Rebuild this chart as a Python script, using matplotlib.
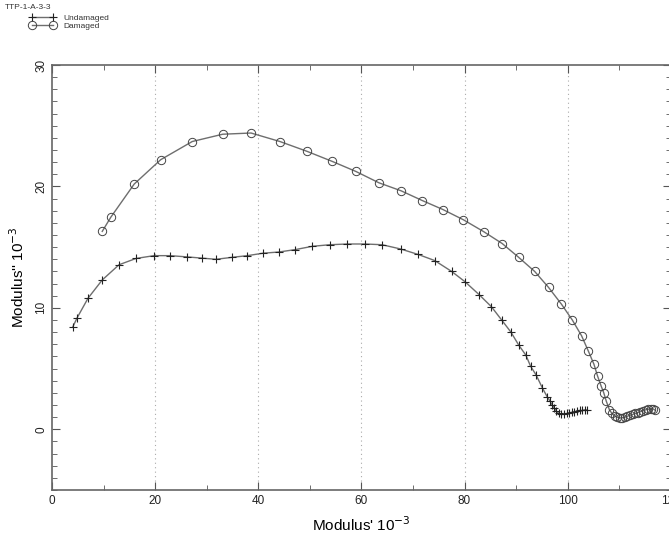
import matplotlib
matplotlib.use("Agg")
import matplotlib.pyplot as plt
from matplotlib.ticker import MultipleLocator

plt.rcParams['font.family'] = ['Liberation Sans', 'DejaVu Sans']

# Undamaged sample (Modulus' vs Modulus'', both x 10^-3)
undamaged_x = [4.0, 4.9, 7.0, 9.75, 13.0, 16.3, 19.8, 22.9, 26.1, 29.0, 31.8, 34.9, 37.9,
               40.9, 44.0, 47.2, 50.5, 53.9, 57.3, 60.7, 64.0, 67.6, 71.0, 74.2,
               77.5, 80.1, 82.8, 85.2, 87.2, 89.0, 90.5, 91.9, 92.8, 93.9, 95.1, 96.0,
               96.6, 97.0, 97.4, 97.8, 98.3, 98.8, 99.3, 99.8, 100.3, 100.8, 101.3,
               101.8, 102.3, 102.8, 103.3, 103.8]
undamaged_y = [8.4, 9.2, 10.8, 12.3, 13.55, 14.07, 14.3, 14.3, 14.2, 14.1, 14.0, 14.16, 14.3,
               14.5, 14.6, 14.8, 15.07, 15.2, 15.26, 15.26, 15.2, 14.85, 14.4, 13.9,
               13.0, 12.15, 11.1, 10.1, 9.0, 8.0, 6.94, 6.1, 5.2, 4.46, 3.4, 2.7,
               2.3, 2.0, 1.75, 1.5, 1.3, 1.22, 1.25, 1.3, 1.35, 1.4, 1.45,
               1.5, 1.55, 1.55, 1.6, 1.6]

damaged_x = [9.75, 11.4, 15.95, 21.07, 27.2, 33.1, 38.6, 44.2, 49.4, 54.3, 58.9, 63.4,
             67.7, 71.8, 75.8, 79.8, 83.7, 87.3, 90.5, 93.6, 96.3, 98.8, 100.9, 102.7,
             104.0, 105.1, 105.8, 106.5, 107.0, 107.5, 108.1, 108.6, 109.1, 109.6, 110.1,
             110.6, 111.1, 111.6, 112.1, 112.6, 113.1, 113.6, 114.1, 114.6, 115.1, 115.6,
             116.1, 116.6, 117.0]
damaged_y = [16.3, 17.46, 20.2, 22.2, 23.7, 24.3, 24.4, 23.7, 22.9, 22.07, 21.24, 20.3,
             19.64, 18.84, 18.1, 17.25, 16.28, 15.3, 14.16, 13.0, 11.68, 10.3, 9.0, 7.7,
             6.45, 5.35, 4.38, 3.55, 3.0, 2.3, 1.6, 1.3, 1.1, 1.0, 0.93,
             0.95, 1.0, 1.08, 1.15, 1.22, 1.3, 1.38, 1.45, 1.52, 1.6, 1.65,
             1.7, 1.68, 1.55]

fig = plt.figure(figsize=(6.69, 5.4), dpi=100)
ax = fig.add_axes([0.0777, 0.0926, 0.925, 0.787])

line_col = '#6e6e6e'
ax.plot(undamaged_x, undamaged_y, color=line_col, lw=1.0, marker='+', ms=5.5,
        mec='#222222', mew=0.8, label='Undamaged')
ax.plot(damaged_x, damaged_y, color=line_col, lw=1.0, marker='o', ms=6,
        mfc='none', mec='#444444', mew=0.7, label='Damaged')

ax.set_xlim(0, 120)
ax.set_ylim(-5, 30)
ax.xaxis.set_major_locator(MultipleLocator(20))
ax.xaxis.set_minor_locator(MultipleLocator(10))
ax.yaxis.set_major_locator(MultipleLocator(10))
ax.yaxis.set_minor_locator(MultipleLocator(1))
ax.tick_params(which='both', direction='in', top=True, right=True, colors='#555555',
               labelcolor='#222222', labelsize=8.5)
ax.tick_params(which='major', length=6)
ax.tick_params(which='minor', length=3.5)
for lab in ax.get_yticklabels():
    lab.set_rotation(90)
    lab.set_va('center')

for xv in [20, 40, 60, 80, 100]:
    ax.axvline(xv, color='#aaaaaa', lw=0.8, ls=(0, (1, 3)), zorder=0)

for s in ax.spines.values():
    s.set_color('#666666')
    s.set_linewidth(1.2)

ax.set_xlabel("Modulus' 10$^{-3}$", fontsize=11, labelpad=6)
ax.set_ylabel("Modulus'' 10$^{-3}$", fontsize=11, labelpad=6)

fig.text(0.008, 0.992, 'TTP-1-A-3-3', fontsize=6, va='top', ha='left', color='#333333')
fig.legend(loc='upper left', bbox_to_anchor=(0.035, 0.985), frameon=False,
           numpoints=2, fontsize=6, handlelength=3.2, handletextpad=0.9,
           borderaxespad=0.3, labelspacing=0.05, labelcolor='#333333')

fig.savefig('out.png', dpi=100)
